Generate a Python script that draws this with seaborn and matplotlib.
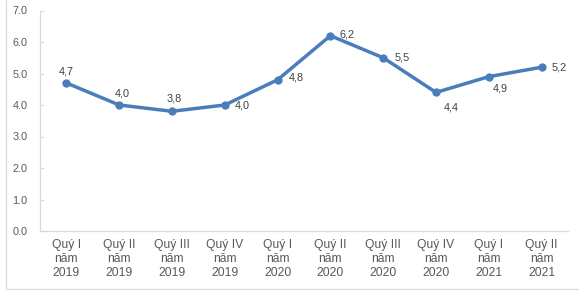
import matplotlib
matplotlib.use("Agg")
import matplotlib.pyplot as plt
import seaborn as sns
import pandas as pd
from matplotlib.lines import Line2D

quarters = ["Quý I\nnăm\n2019", "Quý II\nnăm\n2019", "Quý III\nnăm\n2019", "Quý IV\nnăm\n2019",
            "Quý I\nnăm\n2020", "Quý II\nnăm\n2020", "Quý III\nnăm\n2020", "Quý IV\nnăm\n2020",
            "Quý I\nnăm\n2021", "Quý II\nnăm\n2021"]
values = [4.7, 4.0, 3.8, 4.0, 4.8, 6.2, 5.5, 4.4, 4.9, 5.2]
y_ticks = [0, 1, 2, 3, 4, 5, 6, 7]

# label offsets in pixels (style only)
offsets = [(0, 11), (3, 11), (2, 13), (17, 0), (19, 2), (17, 1), (19, 0), (15, -15), (11, -12), (18, 0)]

sns.set_theme(style="white")
plt.rcParams['font.family'] = ['Liberation Sans', 'DejaVu Sans']

df = pd.DataFrame({"q": quarters, "v": values})
fig = plt.figure(figsize=(5.79, 2.90), dpi=100)
ax = fig.add_axes([40/579, 1-231/290, (568-40)/579, (231-10.5)/290])

sns.lineplot(data=df, x="q", y="v", ax=ax, sort=False, color="#4A7EBB",
             linewidth=2.5, marker="o", markersize=6, markeredgewidth=0)

ax.set_xlim(-0.5, len(quarters)-0.5)
ax.set_ylim(0, 7)
ax.set_yticks(y_ticks)
ax.set_yticklabels([f"{t:.1f}" for t in y_ticks])
ax.set_xlabel("")
ax.set_ylabel("")
ax.tick_params(axis="y", direction="in", length=3, width=0.8, color="#D9D9D9",
               labelsize=7.8, labelcolor="#595959", pad=9, left=True)
ax.tick_params(axis="x", length=0, labelsize=8.7, labelcolor="#595959", pad=6)
for lbl in ax.get_xticklabels():
    lbl.set_linespacing(1.2)

for s in ["top", "right"]:
    ax.spines[s].set_visible(False)
for s in ["left", "bottom"]:
    ax.spines[s].set_color("#D9D9D9")
    ax.spines[s].set_linewidth(0.9)

for i, (v, off) in enumerate(zip(values, offsets)):
    ax.annotate(f"{v:.1f}".replace(".", ","), (i, v), xytext=(off[0]*0.72, off[1]*0.72),
                textcoords="offset points", ha="center", va="center",
                fontsize=7.8, color="#404040")

# outer chart border (left and bottom visible)
fig.add_artist(Line2D([5.5/579, 5.5/579], [1-289/290, 1.0], transform=fig.transFigure,
                      color="#D9D9D9", linewidth=0.9))
fig.add_artist(Line2D([5.5/579, 1.0], [1-289/290, 1-289/290], transform=fig.transFigure,
                      color="#D9D9D9", linewidth=0.9))

fig.savefig("out.png", dpi=100)
